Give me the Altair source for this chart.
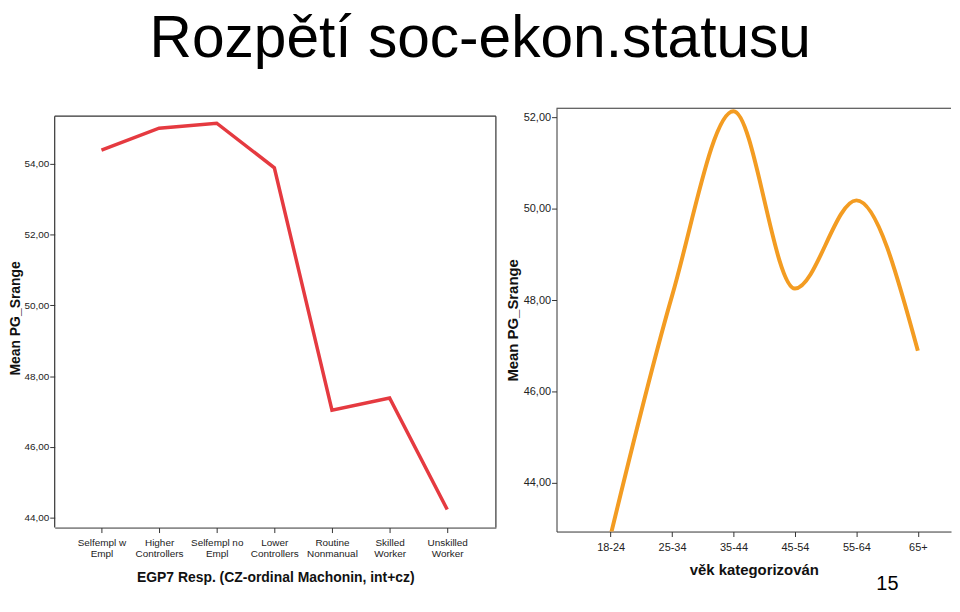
import altair as alt
import pandas as pd

# ---- data ----
egp_labels = ["Selfempl w|Empl", "Higher|Controllers", "Selfempl no|Empl",
              "Lower|Controllers", "Routine|Nonmanual", "Skilled|Worker",
              "Unskilled|Worker"]
egp_means = [54.39, 55.01, 55.15, 53.89, 47.04, 47.38, 44.23]

age_labels = ["18-24", "25-34", "35-44", "45-54", "55-64", "65+"]
age_means = [42.85, 48.09, 52.13, 48.25, 50.18, 46.89]

left_ticks = [44, 46, 48, 50, 52, 54]
right_ticks = [44, 46, 48, 50, 52]

FONT = "Liberation Sans"
fmt = "replace(format(datum.value, '.2f'), '.', ',')"
FRAME = "#333333"

df_left = pd.DataFrame({"cat": egp_labels, "mean": egp_means})
df_right = pd.DataFrame({"age": age_labels, "mean": age_means})
one = pd.DataFrame({"a": [0]})

LW, LH = 444, 422
RW, RH = 397, 426


def axis_style(label_size, title_size):
    return dict(
        domainColor=FRAME, tickColor=FRAME, tickSize=5, tickWidth=1,
        labelFont=FONT, labelFontSize=label_size, labelColor="#222222",
        titleFont=FONT, titleFontSize=title_size, titleFontWeight="bold",
        titleColor="#111111", grid=False,
    )


# ---- left panel ----
left_line = alt.Chart(df_left).mark_line(color="#e53a40", strokeWidth=3.5).encode(
    x=alt.X("cat:N", sort=egp_labels,
            scale=alt.Scale(type="point", padding=0.828, align=0.49),
            axis=alt.Axis(title="EGP7 Resp. (CZ-ordinal Machonin, int+cz)",
                          labelExpr="split(datum.label, '|')", labelAngle=0,
                          labelLineHeight=11, labelPadding=5, titlePadding=12,
                          **axis_style(10, 14))),
    y=alt.Y("mean:Q",
            scale=alt.Scale(domain=[43.719, 55.573], nice=False, zero=False),
            axis=alt.Axis(title="Mean PG_Srange", values=left_ticks, labelExpr=fmt,
                          domain=False, labelPadding=1, titlePadding=1,
                          **axis_style(10, 14))),
)
left_bound = alt.Chart(one).mark_rule(color="white", strokeWidth=1).encode(
    x=alt.value(0), x2=alt.value(LW), y=alt.value(0))
left_top = alt.Chart(one).mark_rule(color=FRAME, strokeWidth=1.2).encode(
    x=alt.value(0), x2=alt.value(LW), y=alt.value(8))
left_side = alt.Chart(one).mark_rule(color=FRAME, strokeWidth=1.2).encode(
    x=alt.value(0), y=alt.value(8), y2=alt.value(LH))
right_side = alt.Chart(one).mark_rule(color=FRAME, strokeWidth=1.2).encode(
    x=alt.value(LW), y=alt.value(8), y2=alt.value(LH))

left = alt.layer(left_bound, left_top, left_side, right_side, left_line).properties(
    width=LW, height=LH)

# ---- right panel ----
right_line = alt.Chart(df_right).mark_line(
    color="#f39c22", strokeWidth=4, interpolate="monotone", clip=True).encode(
    x=alt.X("age:N", sort=age_labels,
            scale=alt.Scale(type="point", padding=0.71, align=0.62),
            axis=alt.Axis(title="věk kategorizován", labelAngle=0,
                          labelPadding=5, titlePadding=10, **axis_style(11, 15))),
    y=alt.Y("mean:Q",
            scale=alt.Scale(domain=[42.935, 52.196], nice=False, zero=False),
            axis=alt.Axis(title="Mean PG_Srange", values=right_ticks, labelExpr=fmt,
                          labelPadding=1, titlePadding=3, **axis_style(11, 15))),
)
right_top = alt.Chart(one).mark_rule(color=FRAME, strokeWidth=1.2).encode(
    x=alt.value(0), x2=alt.value(RW), y=alt.value(0))
page_no = alt.Chart(one).mark_text(
    text="15", font=FONT, fontSize=20, color="#000000",
    align="center", baseline="middle").encode(
    x=alt.value(333), y=alt.value(479))

right = alt.layer(right_top, right_line, page_no).properties(width=RW, height=RH)

chart = alt.hconcat(left, right, spacing=8).properties(
    padding=0,
    title=alt.TitleParams("Rozpětí soc-ekon.statusu", font=FONT, fontSize=59,
                          fontWeight="normal", color="#000000",
                          anchor="middle", offset=39),
).configure_view(stroke=None)

chart.save("out.html", embed_options={"renderer": "svg", "actions": False})
